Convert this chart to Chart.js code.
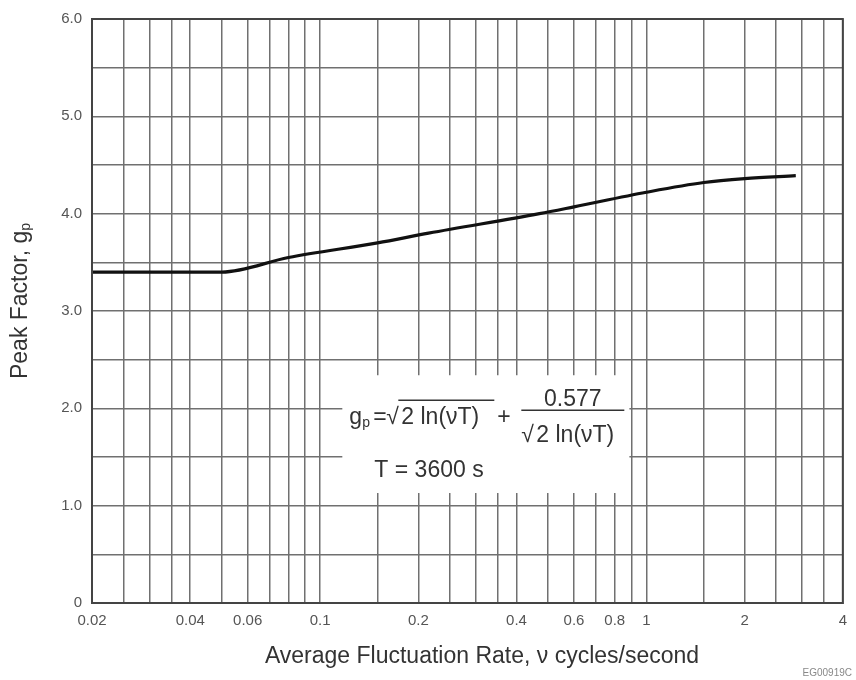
<!DOCTYPE html>
<html>
<head>
<meta charset="utf-8">
<script src="https://cdn.jsdelivr.net/npm/chart.js@4.4.1/dist/chart.umd.min.js"></script>
<style>
    html, body { margin: 0; padding: 0; background: #fff; }
    #wrap { width: 856px; height: 680px; position: relative; }
</style>
</head>
<body>
<div id="wrap"><canvas id="chart"></canvas></div>
<script>
/* ================= DATA ================= */
// average fluctuation rate, cycles/second
const nuValues = [0.02, 0.05, 0.08, 0.15, 0.215, 0.47, 0.6, 1.0, 1.5, 2.0, 2.87];
// peak factor g_p
const peakValues = [3.40, 3.40, 3.55, 3.70, 3.80, 4.00, 4.07, 4.22, 4.32, 4.36, 4.39];

// vertical grid lines of the log axis, and the ones that get a label
const xGridValues = [0.02, 0.025, 0.03, 0.035, 0.04, 0.05, 0.06, 0.07, 0.08, 0.09,
    0.1, 0.15, 0.2, 0.25, 0.3, 0.35, 0.4, 0.5, 0.6, 0.7, 0.8, 0.9,
    1, 1.5, 2, 2.5, 3, 3.5, 4];
const xTickLabels = ['0.02', '0.04', '0.06', '0.1', '0.2', '0.4', '0.6', '0.8', '1', '2', '4'];
const yTickLabels = ['0', '1.0', '2.0', '3.0', '4.0', '5.0', '6.0'];

const FONT = '"Liberation Sans", Arial, sans-serif';
const GRID = '#707070';

/* ================= ANNOTATIONS ================= */
// formula box, titles, frame
const notes = {
    id: 'notes',
    beforeDatasetsDraw(chart) {
        const { ctx, scales: { x, y } } = chart;
        const L = x.getPixelForValue(0.117), R = x.getPixelForValue(0.887);
        const T = y.getPixelForValue(2.34), B = y.getPixelForValue(1.13);

        ctx.save();
        ctx.fillStyle = '#fff';
        ctx.fillRect(L, T, R - L, B - T);

        ctx.fillStyle = '#333';
        ctx.strokeStyle = '#333';
        ctx.textBaseline = 'alphabetic';
        ctx.textAlign = 'left';

        // g_p = sqrt(2 ln(vT)) + 0.577 / sqrt(2 ln(vT))
        const base = T + 49;
        ctx.font = '23px ' + FONT;
        ctx.fillText('g', L + 7, base);
        ctx.font = '14px ' + FONT;
        ctx.fillText('p', L + 20, base + 3);
        ctx.font = '23px ' + FONT;
        ctx.fillText('=', L + 31, base);
        ctx.fillText('\u221A', L + 44, base);
        ctx.fillText('2 ln(\u03BDT)', L + 59, base);
        ctx.lineWidth = 1.3;
        ctx.beginPath();
        ctx.moveTo(L + 56, T + 25);
        ctx.lineTo(L + 152, T + 25);
        ctx.stroke();
        ctx.fillText('+', L + 155, base);

        // fraction
        const fx0 = L + 179, fx1 = L + 282;
        ctx.lineWidth = 1.5;
        ctx.beginPath();
        ctx.moveTo(fx0, T + 35);
        ctx.lineTo(fx1, T + 35);
        ctx.stroke();
        ctx.textAlign = 'center';
        ctx.fillText('0.577', (fx0 + fx1) / 2, T + 31);
        ctx.textAlign = 'left';
        ctx.fillText('\u221A', fx0, T + 67);
        ctx.fillText('2 ln(\u03BDT)', fx0 + 15, T + 67);

        ctx.fillText('T = 3600 s', L + 32, T + 102);
        ctx.restore();
    },
    afterDraw(chart) {
        const { ctx, chartArea: a } = chart;
        ctx.save();
        // plot frame
        ctx.strokeStyle = '#444';
        ctx.lineWidth = 2;
        ctx.strokeRect(a.left, a.top, a.right - a.left, a.bottom - a.top);

        ctx.fillStyle = '#333';
        ctx.textAlign = 'center';
        ctx.textBaseline = 'alphabetic';

        // x title
        ctx.font = '23px ' + FONT;
        ctx.fillText('Average Fluctuation Rate, \u03BD cycles/second', 482, 663);

        // y title with subscript
        ctx.translate(27, 301);
        ctx.rotate(-Math.PI / 2);
        const main = 'Peak Factor, g';
        const w1 = ctx.measureText(main).width;
        ctx.font = '14px ' + FONT;
        const w2 = ctx.measureText('p').width;
        const start = -(w1 + w2) / 2;
        ctx.textAlign = 'left';
        ctx.font = '23px ' + FONT;
        ctx.fillText(main, start, 0);
        ctx.font = '14px ' + FONT;
        ctx.fillText('p', start + w1, 3);
        ctx.setTransform(1, 0, 0, 1, 0, 0);

        // drawing code
        ctx.font = '10px ' + FONT;
        ctx.fillStyle = '#888';
        ctx.textAlign = 'right';
        ctx.fillText('EG00919C', 852, 676);
        ctx.restore();
    }
};

/* ================= CHART ================= */
const chart = new Chart(document.getElementById('chart'), {
    type: 'line',
    data: {
        datasets: [{
            data: nuValues.map((v, i) => ({ x: v, y: peakValues[i] })),
            borderColor: '#111',
            borderWidth: 3.2,
            pointRadius: 0,
            cubicInterpolationMode: 'monotone',
            fill: false
        }]
    },
    options: {
        responsive: true,
        maintainAspectRatio: false,
        animation: false,
        layout: { padding: { top: 14, right: 11, left: 0, bottom: 0 } },
        plugins: { legend: { display: false }, tooltip: { enabled: false } },
        scales: {
            x: {
                type: 'logarithmic',
                min: 0.02,
                max: 4,
                afterBuildTicks: s => { s.ticks = xGridValues.map(v => ({ value: v })); },
                afterFit: s => { s.height = 77; },
                grid: { color: GRID, lineWidth: 1.5, drawTicks: false },
                border: { color: '#444', width: 2 },
                ticks: {
                    autoSkip: false,
                    maxRotation: 0,
                    padding: 9,
                    color: '#555',
                    font: { family: FONT, size: 15 },
                    callback: v => xTickLabels.find(t => parseFloat(t) === v) || ''
                }
            },
            y: {
                min: 0,
                max: 6,
                afterFit: s => { s.width = 92; },
                grid: { color: GRID, lineWidth: 1.5, drawTicks: false },
                border: { color: '#444', width: 2 },
                ticks: {
                    stepSize: 0.5,
                    padding: 10,
                    color: '#555',
                    font: { family: FONT, size: 15 },
                    callback: v => Number.isInteger(v) ? yTickLabels[v] : ''
                }
            }
        }
    },
    plugins: [notes]
});
</script>
</body>
</html>
